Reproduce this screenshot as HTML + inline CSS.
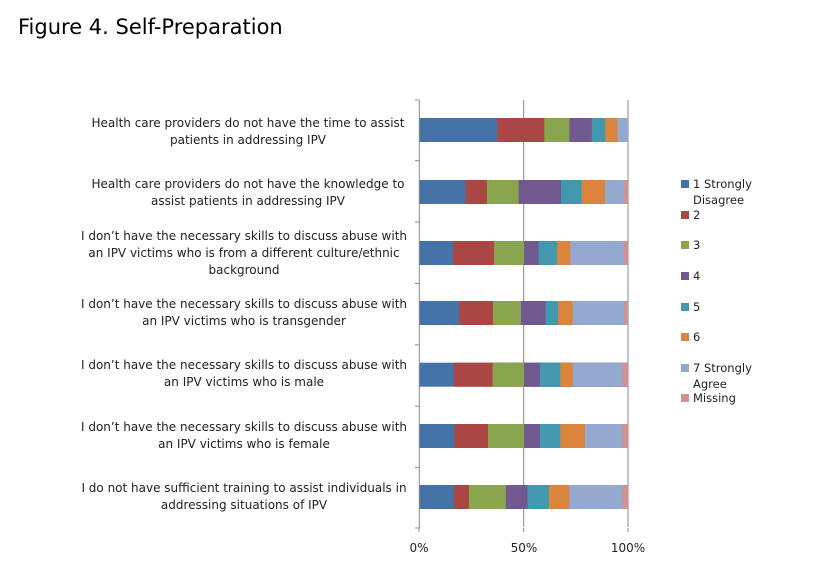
<!DOCTYPE html>
<html><head><meta charset="utf-8"><style>
body{margin:0;background:#fff;width:817px;height:570px;overflow:hidden}
svg{display:block}
text{font-family:"DejaVu Sans","Liberation Sans",sans-serif;fill:#222}
.c{font-size:12px;text-anchor:middle}
.l{font-size:11.5px}
</style></head><body>
<svg width="817" height="570" viewBox="0 0 817 570" xmlns="http://www.w3.org/2000/svg">
<text x="18" y="34" style="font-size:21px;fill:#000">Figure 4. Self-Preparation</text>
<line x1="523.7" y1="100" x2="523.7" y2="527" stroke="#888" stroke-width="1"/>
<line x1="628" y1="100" x2="628" y2="527" stroke="#888" stroke-width="1"/>
<g>
<rect x="419.3" y="118" width="208.7" height="24" fill="#4572a7"/>
<rect x="497.35" y="118" width="130.65" height="24" fill="#aa4643"/>
<rect x="544.31" y="118" width="83.69" height="24" fill="#89a54e"/>
<rect x="569.36" y="118" width="58.64" height="24" fill="#71588f"/>
<rect x="591.7" y="118" width="36.3" height="24" fill="#4198af"/>
<rect x="605.25" y="118" width="22.75" height="24" fill="#db843d"/>
<rect x="617.57" y="118" width="10.43" height="24" fill="#93a9cf"/>

<rect x="419.3" y="180" width="208.7" height="24" fill="#4572a7"/>
<rect x="465.63" y="180" width="162.37" height="24" fill="#aa4643"/>
<rect x="486.92" y="180" width="141.08" height="24" fill="#89a54e"/>
<rect x="518.64" y="180" width="109.36" height="24" fill="#71588f"/>
<rect x="561.01" y="180" width="66.99" height="24" fill="#4198af"/>
<rect x="581.67" y="180" width="46.33" height="24" fill="#db843d"/>
<rect x="605.04" y="180" width="22.96" height="24" fill="#93a9cf"/>
<rect x="623.61" y="180" width="4.39" height="24" fill="#d19392"/>

<rect x="419.3" y="241" width="208.7" height="24" fill="#4572a7"/>
<rect x="453.32" y="241" width="174.68" height="24" fill="#aa4643"/>
<rect x="494" y="241" width="134" height="24" fill="#89a54e"/>
<rect x="524.07" y="241" width="103.93" height="24" fill="#71588f"/>
<rect x="538.68" y="241" width="89.32" height="24" fill="#4198af"/>
<rect x="557.04" y="241" width="70.96" height="24" fill="#db843d"/>
<rect x="570.4" y="241" width="57.6" height="24" fill="#93a9cf"/>
<rect x="623.61" y="241" width="4.39" height="24" fill="#d19392"/>

<rect x="419.3" y="301" width="208.7" height="24" fill="#4572a7"/>
<rect x="459.37" y="301" width="168.63" height="24" fill="#aa4643"/>
<rect x="492.97" y="301" width="135.03" height="24" fill="#89a54e"/>
<rect x="520.94" y="301" width="107.06" height="24" fill="#71588f"/>
<rect x="545.56" y="301" width="82.44" height="24" fill="#4198af"/>
<rect x="558.08" y="301" width="69.92" height="24" fill="#db843d"/>
<rect x="572.7" y="301" width="55.3" height="24" fill="#93a9cf"/>
<rect x="624.24" y="301" width="3.76" height="24" fill="#d19392"/>

<rect x="419.3" y="362.7" width="208.7" height="24" fill="#4572a7"/>
<rect x="453.74" y="362.7" width="174.26" height="24" fill="#aa4643"/>
<rect x="492.55" y="362.7" width="135.45" height="24" fill="#89a54e"/>
<rect x="524.07" y="362.7" width="103.93" height="24" fill="#71588f"/>
<rect x="539.93" y="362.7" width="88.07" height="24" fill="#4198af"/>
<rect x="560.38" y="362.7" width="67.62" height="24" fill="#db843d"/>
<rect x="572.7" y="362.7" width="55.3" height="24" fill="#93a9cf"/>
<rect x="622.37" y="362.7" width="5.63" height="24" fill="#d19392"/>

<rect x="419.3" y="424" width="208.7" height="24" fill="#4572a7"/>
<rect x="454.36" y="424" width="173.64" height="24" fill="#aa4643"/>
<rect x="487.96" y="424" width="140.04" height="24" fill="#89a54e"/>
<rect x="524.07" y="424" width="103.93" height="24" fill="#71588f"/>
<rect x="539.93" y="424" width="88.07" height="24" fill="#4198af"/>
<rect x="560.38" y="424" width="67.62" height="24" fill="#db843d"/>
<rect x="585" y="424" width="43" height="24" fill="#93a9cf"/>
<rect x="622.37" y="424" width="5.63" height="24" fill="#d19392"/>

<rect x="419.3" y="485" width="208.7" height="24" fill="#4572a7"/>
<rect x="453.74" y="485" width="174.26" height="24" fill="#aa4643"/>
<rect x="468.97" y="485" width="159.03" height="24" fill="#89a54e"/>
<rect x="505.91" y="485" width="122.09" height="24" fill="#71588f"/>
<rect x="527.41" y="485" width="100.59" height="24" fill="#4198af"/>
<rect x="548.9" y="485" width="79.1" height="24" fill="#db843d"/>
<rect x="569.36" y="485" width="58.64" height="24" fill="#93a9cf"/>
<rect x="622.37" y="485" width="5.63" height="24" fill="#d19392"/>
</g>
<line x1="419.3" y1="100" x2="419.3" y2="528" stroke="#888" stroke-width="1"/>
<g stroke="#888" stroke-width="1">
<line x1="415" y1="100" x2="419" y2="100"/>
<line x1="415" y1="160.7" x2="419" y2="160.7"/>
<line x1="415" y1="222" x2="419" y2="222"/>
<line x1="415" y1="283.4" x2="419" y2="283.4"/>
<line x1="415" y1="344.8" x2="419" y2="344.8"/>
<line x1="415" y1="406.2" x2="419" y2="406.2"/>
<line x1="415" y1="467.6" x2="419" y2="467.6"/>
<line x1="415" y1="528" x2="419" y2="528"/>
<line x1="419" y1="528" x2="419" y2="532"/>
<line x1="523.7" y1="528" x2="523.7" y2="532"/>
<line x1="628" y1="528" x2="628" y2="532"/>
</g>
<text class="c" x="419" y="552">0%</text>
<text class="c" x="524" y="552">50%</text>
<text class="c" x="628" y="552">100%</text>
<text class="c" x="248" y="127">Health care providers do not have the time to assist</text>
<text class="c" x="248" y="144">patients in addressing IPV</text>
<text class="c" x="248" y="188">Health care providers do not have the knowledge to</text>
<text class="c" x="248" y="205">assist patients in addressing IPV</text>
<text class="c" x="244" y="240">I don’t have the necessary skills to discuss abuse with</text>
<text class="c" x="244" y="257">an IPV victims who is from a different culture/ethnic</text>
<text class="c" x="244" y="274">background</text>
<text class="c" x="244" y="308">I don’t have the necessary skills to discuss abuse with</text>
<text class="c" x="244" y="325">an IPV victims who is transgender</text>
<text class="c" x="244" y="369">I don’t have the necessary skills to discuss abuse with</text>
<text class="c" x="244" y="386">an IPV victims who is male</text>
<text class="c" x="244" y="431">I don’t have the necessary skills to discuss abuse with</text>
<text class="c" x="244" y="448">an IPV victims who is female</text>
<text class="c" x="244" y="492">I do not have sufficient training to assist individuals in</text>
<text class="c" x="244" y="509">addressing situations of IPV</text>
<g>
<rect x="681" y="180" width="8" height="8" fill="#4572a7"/><text class="l" x="693" y="188">1 Strongly</text><text class="l" x="693" y="204">Disagree</text>
<rect x="681" y="211" width="8" height="8" fill="#aa4643"/><text class="l" x="693" y="219">2</text>
<rect x="681" y="241" width="8" height="8" fill="#89a54e"/><text class="l" x="693" y="249">3</text>
<rect x="681" y="272" width="8" height="8" fill="#71588f"/><text class="l" x="693" y="280">4</text>
<rect x="681" y="303" width="8" height="8" fill="#4198af"/><text class="l" x="693" y="311">5</text>
<rect x="681" y="333" width="8" height="8" fill="#db843d"/><text class="l" x="693" y="341">6</text>
<rect x="681" y="364" width="8" height="8" fill="#93a9cf"/><text class="l" x="693" y="372">7 Strongly</text><text class="l" x="693" y="388">Agree</text>
<rect x="681" y="394" width="8" height="8" fill="#d19392"/><text class="l" x="693" y="402">Missing</text>
</g>
</svg>
</body></html>
